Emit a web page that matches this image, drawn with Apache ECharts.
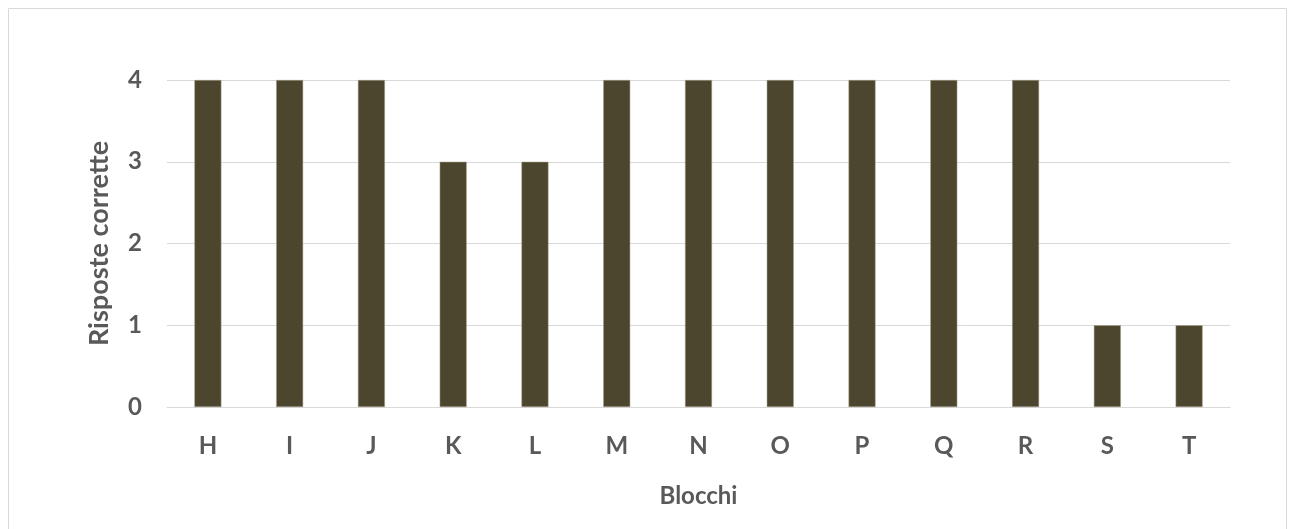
<!DOCTYPE html>
<html>
<head>
<meta charset="utf-8">
<style>
  html, body { margin: 0; padding: 0; background: #ffffff; }
  #chart { width: 1292px; height: 529px; }
</style>
<script src="https://cdn.jsdelivr.net/npm/echarts@6/dist/echarts.min.js"></script>
</head>
<body>
<div id="chart"></div>
<script>
// Correct answers per block
const categories = ['H', 'I', 'J', 'K', 'L', 'M', 'N', 'O', 'P', 'Q', 'R', 'S', 'T'];
const correctAnswers = [4, 4, 4, 3, 3, 4, 4, 4, 4, 4, 4, 1, 1];
const yTicks = [0, 1, 2, 3, 4];

const textColor = '#595959';
const gridColor = '#d9d9d9';
const fontFamily = 'Lato, "Open Sans", sans-serif';

const chart = echarts.init(document.getElementById('chart'), null, { renderer: 'canvas' });

chart.setOption({
  animation: false,
  backgroundColor: '#ffffff',
  graphic: [{
    type: 'rect',
    left: 6,
    top: 6,
    shape: { width: 1278, height: 540 },
    style: { fill: 'none', stroke: gridColor, lineWidth: 1 },
    silent: true
  }],
  grid: { left: 167, right: 62, top: 80, bottom: 122, containLabel: false },
  xAxis: {
    type: 'category',
    data: categories,
    name: 'Blocchi',
    nameLocation: 'middle',
    nameGap: 77,
    nameTextStyle: { color: textColor, fontSize: 24, fontWeight: 'bold', fontFamily },
    axisLine: { show: true, lineStyle: { color: gridColor, width: 1 } },
    axisTick: { show: false },
    axisLabel: { color: textColor, fontSize: 24, fontWeight: 'bold', fontFamily, margin: 27 }
  },
  yAxis: {
    type: 'value',
    min: yTicks[0],
    max: yTicks[yTicks.length - 1],
    interval: 1,
    name: 'Risposte corrette',
    nameLocation: 'middle',
    nameGap: 54,
    nameTextStyle: { color: textColor, fontSize: 27, fontWeight: 'bold', fontFamily },
    axisLine: { show: false },
    axisTick: { show: false },
    splitLine: { show: true, lineStyle: { color: gridColor, width: 1 } },
    axisLabel: {
      color: textColor, fontSize: 24, fontWeight: 'bold', fontFamily, margin: 25,
      formatter: v => yTicks.includes(v) ? String(v) : ''
    }
  },
  series: [{
    type: 'bar',
    data: correctAnswers,
    barWidth: '33%',
    itemStyle: { color: '#4b462d', borderColor: '#a9a58f', borderWidth: 0.5 }
  }]
});
</script>
</body>
</html>
